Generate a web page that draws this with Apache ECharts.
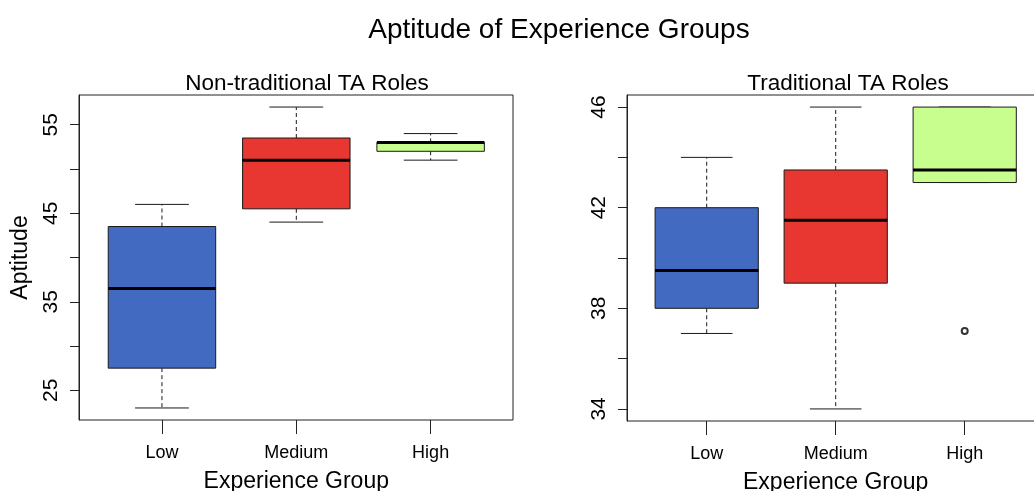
<!DOCTYPE html>
<html>
<head>
<meta charset="utf-8">
<script src="https://cdn.jsdelivr.net/npm/echarts@6/dist/echarts.min.js"></script>
<style>
  html, body { margin: 0; padding: 0; background: #fff; }
  #main { width: 1034px; height: 491px; }
</style>
</head>
<body>
<div id="main"></div>
<script>
var groups = ['Low', 'Medium', 'High'];
var boxColors = ['#426AC1', '#E83631', '#C7FE8D'];

// [group index, lower whisker, Q1, median, Q3, upper whisker]
var nonTraditional = [
    [0, 23, 27.5, 36.5, 43.5, 46],
    [1, 44, 45.5, 51, 53.5, 57],
    [2, 51, 52, 53, 53, 54]
];
var traditional = [
    [0, 37, 38, 39.5, 42, 44],
    [1, 34, 39, 41.5, 43.5, 46],
    [2, 43, 43, 43.5, 46, 46]
];
var traditionalOutliers = [[2, 37.1]];

var leftTicks = [25, 30, 35, 40, 45, 50, 55];
var leftLabels = [25, 35, 45, 55];
var rightTicks = [34, 36, 38, 40, 42, 44, 46];
var rightLabels = [34, 38, 42, 46];

var fontFamily = '"Liberation Sans", Arial, sans-serif';

// R style box: solid box, thick median, dashed whiskers, short caps
function renderBox(params, api) {
    var idx = api.value(0);
    var band = api.size([1, 0])[0];
    var boxW = band * 0.8;
    var capW = band * 0.4;
    var pMin = api.coord([idx, api.value(1)]);
    var pQ1 = api.coord([idx, api.value(2)]);
    var pMed = api.coord([idx, api.value(3)]);
    var pQ3 = api.coord([idx, api.value(4)]);
    var pMax = api.coord([idx, api.value(5)]);
    var cx = pMed[0];
    var lineCol = '#1a1a1a';
    return {
        type: 'group',
        children: [
            { type: 'line', shape: { x1: cx, y1: pQ3[1], x2: cx, y2: pMax[1] },
              style: { stroke: lineCol, lineWidth: 1, lineDash: [4, 3] } },
            { type: 'line', shape: { x1: cx, y1: pQ1[1], x2: cx, y2: pMin[1] },
              style: { stroke: lineCol, lineWidth: 1, lineDash: [4, 3] } },
            { type: 'line', shape: { x1: cx - capW / 2, y1: pMax[1], x2: cx + capW / 2, y2: pMax[1] },
              style: { stroke: lineCol, lineWidth: 1 } },
            { type: 'line', shape: { x1: cx - capW / 2, y1: pMin[1], x2: cx + capW / 2, y2: pMin[1] },
              style: { stroke: lineCol, lineWidth: 1 } },
            { type: 'rect', shape: { x: cx - boxW / 2, y: pQ3[1], width: boxW, height: pQ1[1] - pQ3[1] },
              style: { fill: boxColors[idx], stroke: lineCol, lineWidth: 1 } },
            { type: 'line', shape: { x1: cx - boxW / 2, y1: pMed[1], x2: cx + boxW / 2, y2: pMed[1] },
              style: { stroke: '#000', lineWidth: 3 } }
        ]
    };
}

function frameY(min, max, ticks, labels, name) {
    return {
        type: 'value',
        min: min,
        max: max,
        splitLine: { show: false },
        axisLine: { show: true, lineStyle: { color: '#222', width: 1 } },
        axisTick: { show: true, length: 9, customValues: ticks, lineStyle: { color: '#222' } },
        axisLabel: { customValues: labels, rotate: 90, margin: 17, fontSize: 21,
                     color: '#000', fontFamily: fontFamily },
        name: name,
        nameLocation: 'middle',
        nameRotate: 90,
        nameGap: 47,
        nameTextStyle: { fontSize: 23, color: '#000', fontFamily: fontFamily }
    };
}

function dataX(gridIndex) {
    return {
        type: 'category',
        gridIndex: gridIndex,
        data: groups,
        boundaryGap: true,
        axisLine: { show: false },
        axisTick: { show: true, alignWithLabel: true, length: 14, lineStyle: { color: '#222' } },
        axisLabel: { margin: 24, fontSize: 18, color: '#000', fontFamily: fontFamily },
        name: 'Experience Group',
        nameLocation: 'middle',
        nameGap: 50,
        nameTextStyle: { fontSize: 23, color: '#000', fontFamily: fontFamily }
    };
}

var myChart = echarts.init(document.getElementById('main'), null, { renderer: 'canvas' });
var option = {
    backgroundColor: '#fff',
    animation: false,
    title: [
        { text: 'Aptitude of Experience Groups', left: 554, top: 11, textAlign: 'center',
          textStyle: { fontSize: 28, fontWeight: 'normal', color: '#000', fontFamily: fontFamily } },
        { text: 'Non-traditional TA Roles', left: 302, top: 67, textAlign: 'center',
          textStyle: { fontSize: 22.5, fontWeight: 'normal', color: '#000', fontFamily: fontFamily } },
        { text: 'Traditional TA Roles', left: 843, top: 67, textAlign: 'center',
          textStyle: { fontSize: 22.5, fontWeight: 'normal', color: '#000', fontFamily: fontFamily } }
    ],
    grid: [
        { left: 79, top: 95, width: 434, height: 325, show: true, borderColor: '#222', borderWidth: 1,
          backgroundColor: 'transparent', outerBoundsMode: 'none' },
        { left: 94.8, top: 95, width: 403, height: 325, outerBoundsMode: 'none' },
        { left: 627, top: 95, width: 417, height: 326, show: true, borderColor: '#222', borderWidth: 1,
          backgroundColor: 'transparent', outerBoundsMode: 'none' },
        { left: 642.2, top: 95, width: 387, height: 326, outerBoundsMode: 'none' }
    ],
    xAxis: [
        { type: 'value', gridIndex: 0, show: false },
        dataX(1),
        { type: 'value', gridIndex: 2, show: false },
        dataX(3)
    ],
    yAxis: [
        Object.assign(frameY(21.64, 58.36, leftTicks, leftLabels, 'Aptitude'), { gridIndex: 0 }),
        { type: 'value', gridIndex: 1, min: 21.64, max: 58.36, show: false },
        Object.assign(frameY(33.52, 46.48, rightTicks, rightLabels, ''), { gridIndex: 2 }),
        { type: 'value', gridIndex: 3, min: 33.52, max: 46.48, show: false }
    ],
    series: [
        {
            name: 'Non-traditional TA Roles',
            type: 'custom',
            xAxisIndex: 1,
            yAxisIndex: 1,
            renderItem: renderBox,
            encode: { x: 0, y: [1, 2, 3, 4, 5] },
            data: nonTraditional
        },
        {
            name: 'Traditional TA Roles',
            type: 'custom',
            xAxisIndex: 3,
            yAxisIndex: 3,
            renderItem: renderBox,
            encode: { x: 0, y: [1, 2, 3, 4, 5] },
            data: traditional
        },
        {
            name: 'Outliers',
            type: 'scatter',
            xAxisIndex: 3,
            yAxisIndex: 3,
            symbol: 'emptyCircle',
            symbolSize: 6,
            itemStyle: { color: '#000', borderColor: '#000', borderWidth: 0.8 },
            data: traditionalOutliers
        }
    ]
};
myChart.setOption(option);
</script>
</body>
</html>
